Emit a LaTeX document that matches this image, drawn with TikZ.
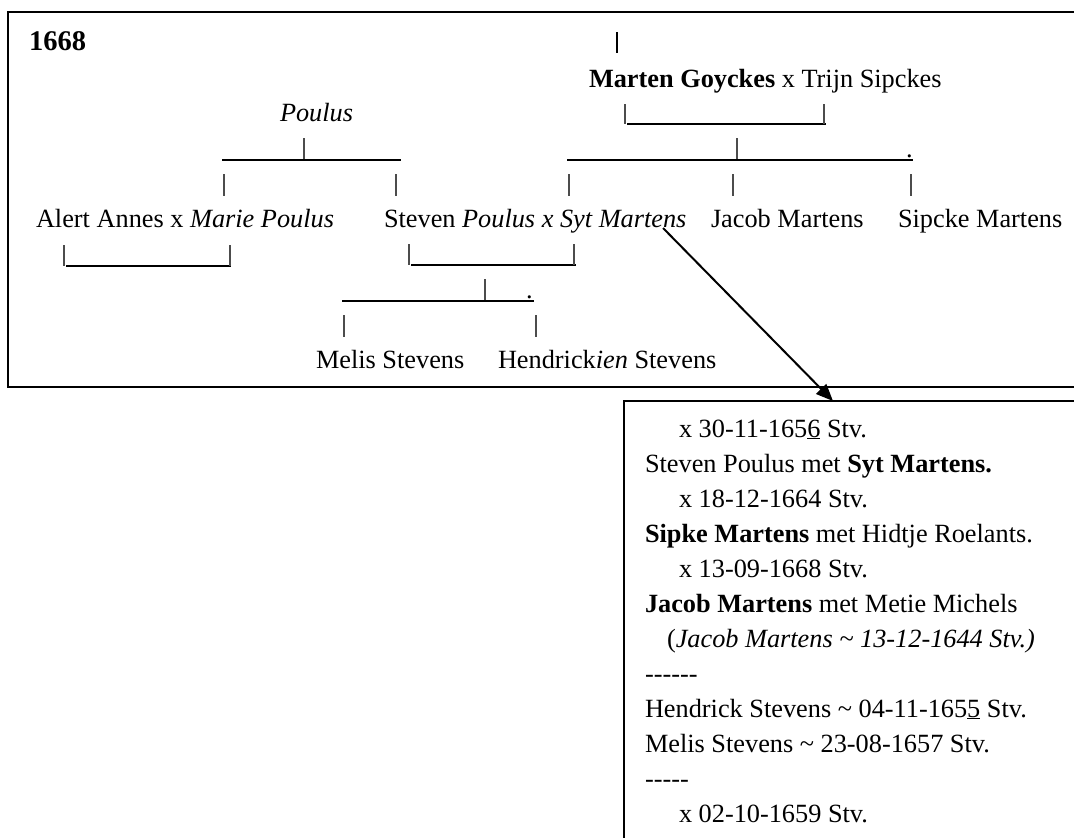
\documentclass[tikz,border=0pt]{standalone}
\usepackage{fontspec}
\setmainfont{Liberation Serif}
\usetikzlibrary{arrows.meta}
\begin{document}
\begin{tikzpicture}[x=1pt,y=-1pt,
  txt/.style={inner sep=0pt, outer sep=0pt, anchor=base west, font=\fontsize{26.3}{30}\selectfont},
  pipe/.style={line width=1.2pt, draw=black!70},
  boldpipe/.style={line width=1.8pt, draw=black},
  bar/.style={line width=2pt, draw=black},
  frame/.style={line width=2pt, draw=black},
  pointer/.style={line width=2pt, draw=black, -{Triangle[length=17pt,width=14pt]}}]
\clip (0,0) rectangle (1074,838);
\fill[white] (0,0) rectangle (1074,838);
% frames
\draw[frame] (1090,12) -- (8,12) -- (8,387) -- (1090,387);
\draw[frame] (1090,401) -- (624,401) -- (624,850);
% tree texts
\node[txt,font=\fontsize{28.5}{32}\selectfont\bfseries] (n1668) at (29,50) {1668};
\node[txt] (marten) at (589,87) {\textbf{Marten Goyckes} x Trijn Sipckes};
\node[txt] (poulus) at (280,121) {\textit{Poulus}};
\node[txt] (alert) at (36,227) {Alert Annes x \textit{Marie Poulus}};
\node[txt] (steven) at (384,227) {Steven \textit{Poulus x Syt Martens}};
\node[txt] (jacob) at (711,227) {Jacob Martens};
\node[txt] (sipcke) at (898,227) {Sipcke Martens};
\node[txt] (melis) at (316,368) {Melis Stevens};
\node[txt] (hendrick) at (498,368) {Hendrick\textit{ien} Stevens};
\node[txt] (dotA) at (906,157) {.};
\node[txt] (dotB) at (526,298) {.};
% top pipe
\draw[boldpipe] (617,32) -- (617,53);
% Marten couple
\coordinate (mcL) at (625,124); \coordinate (mcR) at (825,124);
\draw[pipe] (625,104) -- (mcL);
\draw[bar] (627,124) -- (826,124);
\draw[pipe] (824,104) -- (824,124);
% Marten children
\draw[pipe] (737,138) -- (737,159);
\draw[bar] (567,160) -- (913,160);
\draw[pipe] (569,174) -- (569,196);
\draw[pipe] (733,174) -- (733,196);
\draw[pipe] (911,174) -- (911,196);
% Poulus children
\draw[pipe] (304,138) -- (304,159);
\draw[bar] (222,160) -- (401,160);
\draw[pipe] (224,174) -- (224,196);
\draw[pipe] (396,174) -- (396,196);
% Alert couple
\draw[pipe] (64,245) -- (64,266);
\draw[bar] (66,266) -- (231,266);
\draw[pipe] (230,245) -- (230,266);
% Steven couple
\draw[pipe] (409,244) -- (409,265);
\draw[bar] (411,265) -- (576,265);
\draw[pipe] (574,244) -- (574,265);
% Steven children
\draw[pipe] (485,279) -- (485,300);
\draw[bar] (342,301) -- (534,301);
\draw[pipe] (344,315) -- (344,337);
\draw[pipe] (536,315) -- (536,337);
% arrow
\coordinate (aS) at (663,228);
\coordinate (aE) at (833,401);
\draw[pointer] (aS) -- (aE);
% notes
\node[txt] (l1) at (679,437) {x 30-11-165\underline{6} Stv.};
\node[txt] (l2) at (645,472) {Steven Poulus met \textbf{Syt Martens.}};
\node[txt] (l3) at (679,507) {x 18-12-1664 Stv.};
\node[txt] (l4) at (645,542) {\textbf{Sipke Martens} met Hidtje Roelants.};
\node[txt] (l5) at (679,577) {x 13-09-1668 Stv.};
\node[txt] (l6) at (645,612) {\textbf{Jacob Martens} met Metie Michels};
\node[txt] (l7) at (667,647) {(\textit{Jacob Martens \textasciitilde{} 13-12-1644 Stv.)}};
\node[txt] (l8) at (645,682) {-\kern0pt-\kern0pt-\kern0pt-\kern0pt-\kern0pt-};
\node[txt] (l9) at (645,717) {Hendrick Stevens \textasciitilde{} 04-11-165\underline{5} Stv.};
\node[txt] (l10) at (645,752) {Melis Stevens \textasciitilde{} 23-08-1657 Stv.};
\node[txt] (l11) at (645,787) {-\kern0pt-\kern0pt-\kern0pt-\kern0pt-};
\node[txt] (l12) at (679,822) {x 02-10-1659 Stv.};
\end{tikzpicture}
\end{document}
